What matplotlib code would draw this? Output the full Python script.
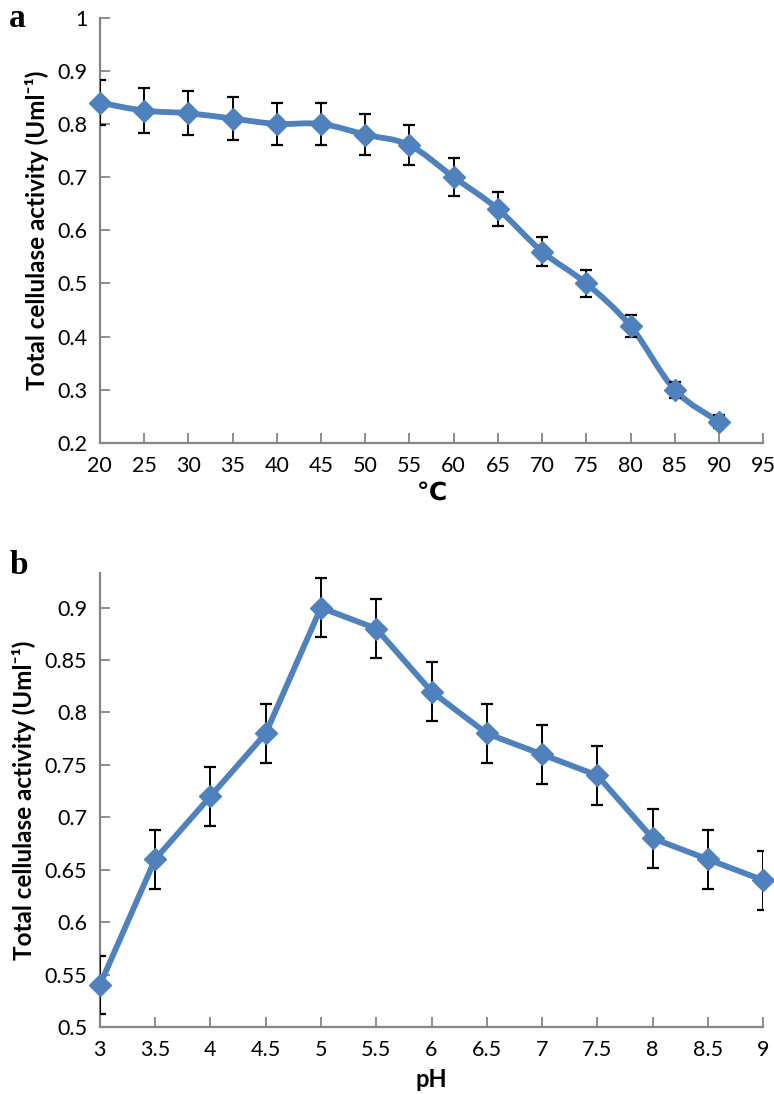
import numpy as np
import matplotlib
matplotlib.use("Agg")
import matplotlib.pyplot as plt
from matplotlib.path import Path
from matplotlib.patches import PathPatch

plt.rcParams['font.family'] = ['Lato', 'DejaVu Sans']

# panel a: temperature
temp = [20, 25, 30, 35, 40, 45, 50, 55, 60, 65, 70, 75, 80, 85, 90]
temp_act = [0.84, 0.825, 0.82, 0.81, 0.80, 0.80, 0.78, 0.76, 0.70, 0.64, 0.56, 0.50, 0.42, 0.30, 0.24]
temp_err = [0.042, 0.042, 0.041, 0.040, 0.040, 0.040, 0.039, 0.038, 0.035, 0.032, 0.028, 0.025, 0.021, 0.015, 0.012]
temp_ticks = list(range(20, 100, 5))
temp_yticks = [0.2, 0.3, 0.4, 0.5, 0.6, 0.7, 0.8, 0.9, 1.0]
temp_ylabels = ["0.2", "0.3", "0.4", "0.5", "0.6", "0.7", "0.8", "0.9", "1"]

# panel b: pH
ph = [3, 3.5, 4, 4.5, 5, 5.5, 6, 6.5, 7, 7.5, 8, 8.5, 9]
ph_act = [0.54, 0.66, 0.72, 0.78, 0.90, 0.88, 0.82, 0.78, 0.76, 0.74, 0.68, 0.66, 0.64]
ph_err = [0.028] * 13
ph_ticks = [3, 3.5, 4, 4.5, 5, 5.5, 6, 6.5, 7, 7.5, 8, 8.5, 9]
ph_labels = ["3", "3.5", "4", "4.5", "5", "5.5", "6", "6.5", "7", "7.5", "8", "8.5", "9"]
ph_yticks = [0.5, 0.55, 0.6, 0.65, 0.7, 0.75, 0.8, 0.85, 0.9]
ph_ylabels = ["0.5", "0.55", "0.6", "0.65", "0.7", "0.75", "0.8", "0.85", "0.9"]

blue = "#4F81BD"
gray = "#868686"
ylab = "Total cellulase activity (Uml\u207B\u00B9)"


def smooth_path(x, y, t=1 / 6):
    # Excel-like smoothed line as cubic bezier segments
    verts = [(x[0], y[0])]
    codes = [Path.MOVETO]
    n = len(x)
    for i in range(n - 1):
        x0, y0 = (x[i - 1], y[i - 1]) if i > 0 else (x[i], y[i])
        x3, y3 = (x[i + 2], y[i + 2]) if i + 2 < n else (x[i + 1], y[i + 1])
        c1 = (x[i] + (x[i + 1] - x0) * t, y[i] + (y[i + 1] - y0) * t)
        c2 = (x[i + 1] - (x3 - x[i]) * t, y[i + 1] - (y3 - y[i]) * t)
        verts += [c1, c2, (x[i + 1], y[i + 1])]
        codes += [Path.CURVE4] * 3
    return Path(verts, codes)


def style_axes(ax):
    for s in ["top", "right"]:
        ax.spines[s].set_visible(False)
    for s in ["left", "bottom"]:
        ax.spines[s].set_color(gray)
        ax.spines[s].set_linewidth(1.6)
    ax.tick_params(direction="in", length=7, width=1.3, color=gray,
                   labelsize=15.5, pad=9)


fig = plt.figure(figsize=(7.74, 10.94), dpi=100)

# ---- panel a
ax1 = fig.add_axes([0.129, 0.595, 0.857, 0.389])
ax1.add_patch(PathPatch(smooth_path(temp, temp_act), facecolor="none",
                        edgecolor=blue, lw=4.2, zorder=2))
ax1.errorbar(temp, temp_act, yerr=temp_err, fmt="none", ecolor="black",
             elinewidth=1.4, capsize=4.5, capthick=1.6, zorder=3)
ax1.plot(temp, temp_act, linestyle="none", marker="D", markersize=11.5,
         color=blue, zorder=4, clip_on=False)
ax1.set_xlim(20, 95)
ax1.set_ylim(0.2, 1.0)
ax1.set_xticks(temp_ticks)
ax1.set_yticks(temp_yticks)
ax1.set_yticklabels(temp_ylabels)
style_axes(ax1)
ax1.set_xlabel("\u2103", fontsize=18, fontweight="bold", labelpad=4)
ax1.set_ylabel(ylab, fontsize=17.5, fontweight="bold", labelpad=6)
fig.text(0.012, 0.983, "a", fontsize=24, fontweight="bold",
         family="Liberation Serif", va="center")

# ---- panel b
ax2 = fig.add_axes([0.129, 0.0612, 0.857, 0.415])
ax2.plot(ph, ph_act, color=blue, lw=4.2, zorder=2)
ax2.errorbar(ph, ph_act, yerr=ph_err, fmt="none", ecolor="black",
             elinewidth=1.4, capsize=4.5, capthick=1.6, zorder=3)
ax2.plot(ph, ph_act, linestyle="none", marker="D", markersize=11.5,
         color=blue, zorder=4, clip_on=False)
ax2.set_xlim(3, 9)
ax2.set_ylim(0.5, 0.933)
ax2.set_xticks(ph_ticks)
ax2.set_xticklabels(ph_labels)
ax2.set_yticks(ph_yticks)
ax2.set_yticklabels(ph_ylabels)
style_axes(ax2)
ax2.set_xlabel("pH", fontsize=17, fontweight="bold", labelpad=6)
ax2.set_ylabel(ylab, fontsize=17.5, fontweight="bold", labelpad=6)
fig.text(0.012, 0.483, "b", fontsize=24, fontweight="bold",
         family="Liberation Serif", va="center")

fig.savefig("out.png", dpi=100)
